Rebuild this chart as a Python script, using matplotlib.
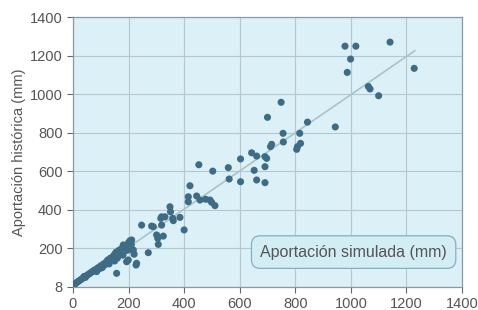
import numpy as np
import matplotlib.pyplot as plt

plt.rcParams['font.family'] = ['Liberation Sans', 'DejaVu Sans']

# Simulated vs historical runoff (mm)
sim = [5, 10, 15, 20, 25, 30, 35, 40, 45, 50, 55, 60, 65, 70, 75, 80, 85, 90, 95, 100,
       105, 110, 115, 120, 125, 130, 135, 140, 145, 150, 150, 155, 160, 165, 170, 175, 180,
       185, 190, 195, 200, 205, 210, 215, 220, 229, 199, 181, 208, 217, 157, 227, 193, 211,
       247, 283, 271, 305, 307, 325, 316, 319, 331, 301, 349, 351, 359, 361, 385, 400, 289, 319,
       415, 415, 421, 445, 457, 477, 493, 499, 511, 453, 503, 559, 562, 603, 603,
       643, 661, 691, 697, 691, 652, 661, 691, 711, 715, 756, 816, 757, 819, 808, 805,
       700, 749, 844, 944, 979, 1018, 999, 987, 1141, 1228, 1069, 1063, 1100]
hist = [10, 20, 25, 30, 35, 40, 45, 55, 50, 60, 65, 70, 75, 80, 85, 90, 80, 100, 95, 110,
        100, 120, 115, 130, 140, 120, 150, 145, 160, 135, 170, 180, 150, 190, 175, 200, 165,
        215, 205, 190, 230, 240, 220, 190, 170, 123, 140, 218, 238, 192, 71, 114, 131, 244,
        321, 316, 178, 252, 221, 264, 356, 364, 364, 270, 416, 390, 356, 344, 361, 296, 313, 321,
        468, 442, 525, 472, 451, 455, 451, 439, 422, 634, 601, 619, 560, 664, 546,
        696, 679, 676, 667, 624, 605, 555, 541, 728, 740, 797, 797, 752, 745, 728, 714,
        880, 958, 855, 830, 1249, 1249, 1182, 1113, 1270, 1134, 1027, 1040, 992]

fit_x = [0, 1230]
fit_y = [8, 1225]

ticks = [0, 200, 400, 600, 800, 1000, 1200, 1400]
ytick_labels = ['8', '200', '400', '600', '800', '1000', '1200', '1400']

fig = plt.figure(figsize=(4.78, 3.10), dpi=100)
ax = fig.add_axes([0.1527, 0.0742, 0.8138, 0.8708])
ax.set_facecolor('#dcf0f7')

ax.plot(fit_x, fit_y, color='#a8c4c4', lw=1.2, zorder=2)
ax.scatter(sim, hist, s=26, color='#3d6c84', edgecolors='none', zorder=3)

ax.set_xlim(0, 1400)
ax.set_ylim(0, 1400)
ax.set_xticks(ticks)
ax.set_yticks(ticks)
ax.set_yticklabels(ytick_labels)
ax.grid(True, color='#b5c8d0', lw=0.8)
ax.set_axisbelow(True)
ax.tick_params(direction='out', length=4, width=0.8, colors='#666666',
               labelcolor='#555555', labelsize=10.5)
for s in ax.spines.values():
    s.set_color('#8a9aa2')
    s.set_linewidth(0.9)

ax.set_ylabel('Aportación histórica (mm)', fontsize=10.5, color='#555555', labelpad=3)

ax.text(1010, 181, 'Aportación simulada (mm)', fontsize=11.5, color='#555555',
        ha='center', va='center', zorder=4,
        bbox=dict(boxstyle='round,pad=0.55', fc='#d3edf5', ec='#86b0bf', lw=0.9))

fig.savefig('out.png', dpi=100)
